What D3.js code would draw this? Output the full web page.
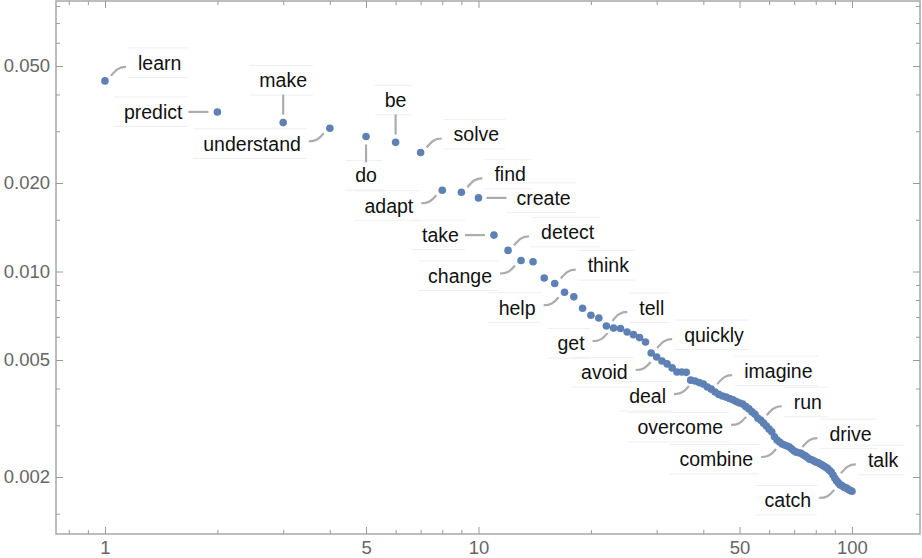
<!DOCTYPE html>
<html>
<head>
<meta charset="utf-8">
<script src="https://cdn.jsdelivr.net/npm/d3@7"></script>
<style>
  body { margin: 0; background: #fff; }
  svg { display: block; font-family: "Liberation Sans", Arial, sans-serif; }
</style>
</head>
<body>
<svg width="922" height="558"></svg>
<script>
// relative frequency of the 100 most common words, in rank order (rank = index + 1)
const freqs = [
  0.0445, 0.0349, 0.0321, 0.0307, 0.0288, 0.0275, 0.0254, 0.0189, 0.0186, 0.0178,
  0.0133, 0.0118, 0.0109, 0.0108, 0.0095, 0.0091, 0.0085, 0.0082, 0.0075, 0.0071,
  0.00695, 0.00653, 0.00642, 0.0064, 0.00623, 0.0061, 0.00596, 0.00576, 0.00528, 0.00512,
  0.00496, 0.00485, 0.0047, 0.00455, 0.00455, 0.00454, 0.00427, 0.00424, 0.00419, 0.00414,
  0.00405, 0.00398, 0.00389, 0.00382, 0.00377, 0.00374, 0.0037, 0.00366, 0.00361, 0.00357,
  0.00354, 0.00347, 0.00341, 0.00333, 0.00327, 0.00317, 0.00312, 0.00305, 0.00298, 0.00291,
  0.00285, 0.00274, 0.00267, 0.00263, 0.00259, 0.00257, 0.00255, 0.00253, 0.00249, 0.00245,
  0.00243, 0.00242, 0.00241, 0.00238, 0.00236, 0.00233, 0.0023, 0.00229, 0.00227, 0.00225,
  0.00224, 0.00222, 0.0022, 0.00218, 0.00216, 0.00214, 0.00211, 0.00208, 0.00203, 0.00198,
  0.00194, 0.00191, 0.00188, 0.00187, 0.00185, 0.00184, 0.00183, 0.00181, 0.0018, 0.00179
];

// callouts: word, its rank, and which side the label sits on
const words = ["learn", "predict", "make", "understand", "do", "be", "solve", "adapt", "find",
  "create", "take", "detect", "change", "think", "help", "tell", "get", "quickly", "avoid",
  "deal", "imagine", "overcome", "run", "combine", "drive", "talk", "catch"];
const wordRanks = [1, 2, 3, 4, 5, 6, 7, 8, 9, 10, 11, 12, 13, 16, 17, 22, 23, 29, 30,
  38, 42, 54, 57, 65, 71, 90, 93];
const wordSides = ["ur", "l", "u", "ll", "d", "u", "ur", "ll", "ur", "r", "l", "ur", "ll",
  "ur", "ll", "ur", "ll", "ur", "ll", "ll", "ur", "ll", "ur", "ll", "ur", "ur", "ll"];

const xMajor = [1, 5, 10, 50, 100];
const xMinor = [0.8, 0.9, 2, 3, 4, 6, 7, 8, 9, 20, 30, 40, 60, 70, 80, 90];
const yMajor = [0.002, 0.005, 0.01, 0.02, 0.05];
const yMinor = [0.0015, 0.003, 0.004, 0.006, 0.007, 0.008, 0.009, 0.015, 0.03, 0.04, 0.06, 0.07, 0.08];

const fLeft = 56, fRight = 920, fTop = 1, fBottom = 534;
const svg = d3.select("svg");

const x = d3.scaleLog().domain([0.7394, 152.1]).range([fLeft, fRight]);
const y = d3.scaleLog().domain([0.00128, 0.0832]).range([fBottom, fTop]);

const frameColor = "#9a9a9a";
const tickColor = "#666";

function styleAxis(g) {
  g.select(".domain").remove();
  g.attr("font-family", null).attr("font-size", null);
  g.selectAll(".tick line").attr("stroke", frameColor);
  g.selectAll(".tick text").attr("fill", tickColor).style("font-size", "18.5px");
}

// bottom and left axes with labels, ticks pointing inward
svg.append("g")
  .attr("transform", `translate(0,${fBottom})`)
  .call(d3.axisBottom(x).tickValues(xMajor).tickFormat(d3.format("d")).tickSize(-7).tickPadding(7))
  .call(styleAxis);
svg.append("g")
  .attr("transform", `translate(0,${fBottom})`)
  .call(d3.axisBottom(x).tickValues(xMinor).tickFormat("").tickSize(-4))
  .call(styleAxis);
svg.append("g")
  .attr("transform", `translate(${fLeft},0)`)
  .call(d3.axisLeft(y).tickValues(yMajor).tickFormat(d3.format(".3f")).tickSize(-7).tickPadding(6))
  .call(styleAxis);
svg.append("g")
  .attr("transform", `translate(${fLeft},0)`)
  .call(d3.axisLeft(y).tickValues(yMinor).tickFormat("").tickSize(-4))
  .call(styleAxis);

// top and right mirrored ticks, no labels
svg.append("g")
  .attr("transform", `translate(0,${fTop})`)
  .call(d3.axisTop(x).tickValues(xMajor).tickFormat("").tickSize(-7))
  .call(styleAxis);
svg.append("g")
  .attr("transform", `translate(0,${fTop})`)
  .call(d3.axisTop(x).tickValues(xMinor).tickFormat("").tickSize(-4))
  .call(styleAxis);
svg.append("g")
  .attr("transform", `translate(${fRight},0)`)
  .call(d3.axisRight(y).tickValues(yMajor).tickFormat("").tickSize(-7))
  .call(styleAxis);
svg.append("g")
  .attr("transform", `translate(${fRight},0)`)
  .call(d3.axisRight(y).tickValues(yMinor).tickFormat("").tickSize(-4))
  .call(styleAxis);

svg.append("rect")
  .attr("x", fLeft).attr("y", fTop)
  .attr("width", fRight - fLeft).attr("height", fBottom - fTop)
  .attr("fill", "none")
  .attr("stroke", frameColor)
  .attr("stroke-width", 1.3);

// callout geometry per side
const layout = {
  ur: (px, py) => ({ path: `M${px + 6},${py - 5}C${px + 11},${py - 11} ${px + 14},${py - 14} ${px + 21},${py - 14}`, tx: px + 33, ty: py - 18, anchor: "start" }),
  ll: (px, py) => ({ path: `M${px - 6},${py + 5}C${px - 11},${py + 11} ${px - 14},${py + 13} ${px - 21},${py + 13}`, tx: px - 29, ty: py + 15.5, anchor: "end" }),
  l: (px, py) => ({ path: `M${px - 29},${py}L${px - 9},${py}`, tx: px - 35, ty: py, anchor: "end" }),
  r: (px, py) => ({ path: `M${px + 8},${py}L${px + 28},${py}`, tx: px + 38, ty: py, anchor: "start" }),
  u: (px, py) => ({ path: `M${px},${py - 8}L${px},${py - 28}`, tx: px, ty: py - 42, anchor: "middle" }),
  d: (px, py) => ({ path: `M${px},${py + 8}L${px},${py + 26}`, tx: px, ty: py + 39, anchor: "middle" })
};

const callouts = words.map((w, i) => {
  const r = wordRanks[i];
  const px = x(r), py = y(freqs[r - 1]);
  return Object.assign({ word: w }, layout[wordSides[i]](px, py));
});

const boxes = svg.append("g");
const leaders = svg.append("g");
const labels = svg.append("g");

leaders.selectAll("path")
  .data(callouts)
  .join("path")
  .attr("d", d => d.path)
  .attr("fill", "none")
  .attr("stroke", "#acacac")
  .attr("stroke-width", 2.2);

labels.selectAll("text")
  .data(callouts)
  .join("text")
  .attr("x", d => d.tx)
  .attr("y", d => d.ty)
  .attr("dy", "0.35em")
  .attr("text-anchor", d => d.anchor)
  .style("font-size", "19.5px")
  .attr("fill", "#111")
  .text(d => d.word)
  .each(function(d) {
    const w = this.getComputedTextLength();
    const x0 = d.anchor === "start" ? d.tx : d.anchor === "end" ? d.tx - w : d.tx - w / 2;
    [d.ty - 15, d.ty + 14.5].forEach(ly => {
      boxes.append("line")
        .attr("x1", x0 - 10).attr("x2", x0 + w + 6)
        .attr("y1", ly).attr("y2", ly)
        .attr("stroke", "#efefef")
        .attr("stroke-width", 1);
    });
  });

// points
svg.append("g")
  .selectAll("circle")
  .data(freqs)
  .join("circle")
  .attr("cx", (d, i) => x(i + 1))
  .attr("cy", d => y(d))
  .attr("r", 3.8)
  .attr("fill", "#5e81b5");
</script>
</body>
</html>
